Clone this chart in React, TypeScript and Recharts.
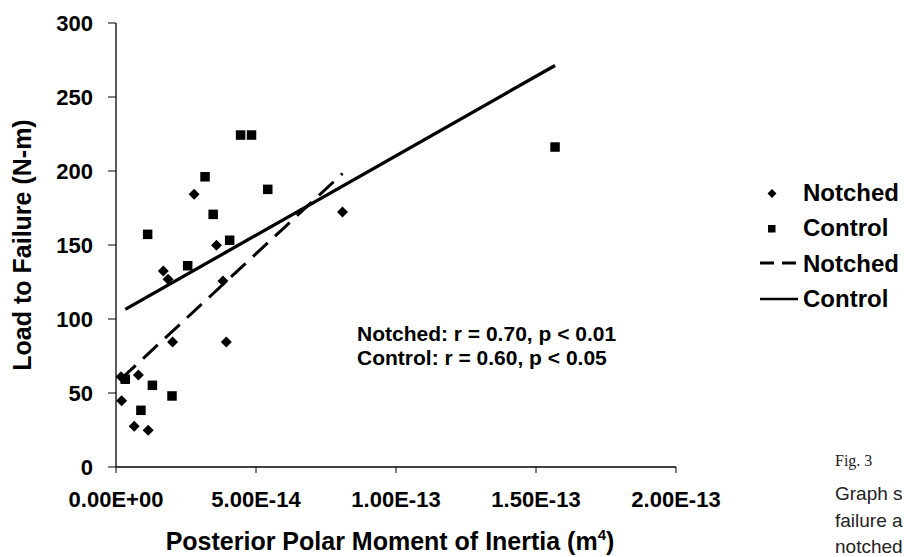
import React from 'react';
import { ScatterChart, Scatter, XAxis, YAxis, Label } from 'recharts';

// Posterior polar moment of inertia (m^4) and load to failure (N-m)
const notchedX = [0.20e-14, 0.18e-14, 0.65e-14, 0.80e-14, 1.15e-14, 1.69e-14, 1.86e-14, 2.02e-14, 2.79e-14, 3.59e-14, 3.82e-14, 3.94e-14, 8.09e-14];
const notchedY = [44.8, 61, 27.5, 62.2, 24.8, 132.4, 126.8, 84.5, 184.3, 149.8, 125.7, 84.5, 172.3];

const controlX = [0.33e-14, 0.89e-14, 1.13e-14, 1.30e-14, 2.0e-14, 2.56e-14, 3.18e-14, 3.47e-14, 4.06e-14, 4.45e-14, 4.84e-14, 5.42e-14, 15.68e-14];
const controlY = [59.3, 38.3, 157.2, 55.2, 48.0, 136.0, 196.1, 170.7, 153.2, 224.3, 224.3, 187.6, 216.2];

// regression lines (end points as drawn)
const notchedFitX = [0.18e-14, 8.09e-14];
const notchedFitY = [59.5, 198.3];
const controlFitX = [0.33e-14, 15.68e-14];
const controlFitY = [106.5, 271.3];

const xTicks = [0, 5e-14, 1e-13, 1.5e-13, 2e-13];
const yTicks = [0, 50, 100, 150, 200, 250, 300];

const legendItems = [
  { name: 'Notched', kind: 'diamond' },
  { name: 'Control', kind: 'square' },
  { name: 'Notched', kind: 'dashed' },
  { name: 'Control', kind: 'solid' },
];

const statLines = ['Notched: r = 0.70, p < 0.01', 'Control: r = 0.60, p < 0.05'];
const captionLines = ['Graph s', 'failure a', 'notched'];

const toPoints = (xs: number[], ys: number[]) => xs.map((x, i) => ({ x, y: ys[i] }));

const notched = toPoints(notchedX, notchedY);
const control = toPoints(controlX, controlY);
const notchedFit = toPoints(notchedFitX, notchedFitY);
const controlFit = toPoints(controlFitX, controlFitY);

const FONT = '"Liberation Sans", Arial, sans-serif';

const sci = (v: number) => {
  const [m, e] = v.toExponential(2).split('e');
  const sign = e[0] === '-' ? '-' : '+';
  const digits = e.replace(/[+-]/, '').padStart(2, '0');
  return `${m}E${sign}${digits}`;
};

const Diamond = (props: any) => {
  const { cx, cy } = props;
  const r = 5.5;
  return <path d={`M${cx},${cy - r}L${cx + r},${cy}L${cx},${cy + r}L${cx - r},${cy}Z`} fill="#000" />;
};

const Square = (props: any) => {
  const { cx, cy } = props;
  const s = 9.5;
  return <rect x={cx - s / 2} y={cy - s / 2} width={s} height={s} fill="#000" />;
};

const NoDot = () => <g />;

const LegendIcon = ({ kind }: { kind: string }) => (
  <svg width={40} height={36} style={{ display: 'block' }}>
    {kind === 'diamond' && <path d="M12,14L16.5,18.5L12,23L7.5,18.5Z" fill="#000" />}
    {kind === 'square' && <rect x={8} y={15} width={7.5} height={7.5} fill="#000" />}
    {kind === 'dashed' && <line x1={0} y1={18} x2={36} y2={18} stroke="#000" strokeWidth={3} strokeDasharray="14 8" />}
    {kind === 'solid' && <line x1={0} y1={18} x2={38} y2={18} stroke="#000" strokeWidth={2.5} />}
  </svg>
);

const YTitle = (props: any) => {
  const { viewBox } = props;
  const x = 31;
  const y = viewBox.y + viewBox.height / 2;
  return (
    <text x={x} y={y} transform={`rotate(-90, ${x}, ${y})`} textAnchor="middle"
      fontFamily={FONT} fontWeight="bold" fontSize={25} fill="#000">
      Load to Failure (N-m)
    </text>
  );
};

const XTitle = () => (
  <text x={390} y={550} textAnchor="middle" fontFamily={FONT} fontWeight="bold" fontSize={25} fill="#000">
    Posterior Polar Moment of Inertia (m
    <tspan fontSize={15} dy={-10}>4</tspan>
    <tspan dy={10}>)</tspan>
  </text>
);

export default function App() {
  return (
    <div style={{ position: 'fixed', left: 0, top: 0, width: 904, height: 557, overflow: 'hidden', background: '#fff' }}>
      <ScatterChart width={904} height={557} margin={{ top: 23, right: 228, bottom: 0, left: 0 }}>
        <XAxis
          type="number"
          dataKey="x"
          domain={[0, 2e-13]}
          ticks={xTicks}
          tickFormatter={sci}
          height={90}
          tickSize={6}
          tickMargin={18}
          stroke="#000"
          tick={{ fill: '#000', fontFamily: FONT, fontWeight: 'bold', fontSize: 22 }}
          axisLine={{ stroke: '#000', strokeWidth: 1.3 }}
          tickLine={{ stroke: '#000' }}
        >
          <Label content={<XTitle />} />
        </XAxis>
        <YAxis
          type="number"
          dataKey="y"
          domain={[0, 300]}
          ticks={yTicks}
          width={116}
          tickSize={8}
          tickMargin={15}
          stroke="#000"
          tick={{ fill: '#000', fontFamily: FONT, fontWeight: 'bold', fontSize: 22 }}
          axisLine={{ stroke: '#000', strokeWidth: 1.3 }}
          tickLine={{ stroke: '#000' }}
        >
          <Label content={<YTitle />} />
        </YAxis>
        <Scatter name="Notched" data={notched} shape={<Diamond />} isAnimationActive={false} />
        <Scatter name="Control" data={control} shape={<Square />} isAnimationActive={false} />
        <Scatter
          name="Notched fit"
          data={notchedFit}
          shape={<NoDot />}
          line={{ stroke: '#000', strokeWidth: 3, strokeDasharray: '20 10' }}
          lineType="joint"
          isAnimationActive={false}
        />
        <Scatter
          name="Control fit"
          data={controlFit}
          shape={<NoDot />}
          line={{ stroke: '#000', strokeWidth: 3.3 }}
          lineType="joint"
          isAnimationActive={false}
        />
      </ScatterChart>

      <div style={{ position: 'absolute', left: 760, top: 175, fontFamily: FONT, fontWeight: 'bold', fontSize: 24, color: '#000' }}>
        {legendItems.map((it, i) => (
          <div key={i} style={{ display: 'flex', alignItems: 'center', height: 35.3, lineHeight: '35.3px' }}>
            <LegendIcon kind={it.kind} />
            <span style={{ marginLeft: 3, whiteSpace: 'nowrap' }}>{it.name}</span>
          </div>
        ))}
      </div>

      <div style={{ position: 'absolute', left: 357, top: 322, fontFamily: FONT, fontWeight: 'bold', fontSize: 21, lineHeight: '23.5px', color: '#000', whiteSpace: 'nowrap' }}>
        {statLines.map((s, i) => <div key={i}>{s}</div>)}
      </div>

      <div style={{ position: 'absolute', left: 835, top: 453, fontFamily: '"Liberation Serif", serif', fontSize: 16, lineHeight: 1, color: '#222', whiteSpace: 'nowrap' }}>
        Fig. 3
      </div>
      <div style={{ position: 'absolute', left: 835, top: 481, fontFamily: FONT, fontSize: 19, lineHeight: '26.5px', color: '#222', whiteSpace: 'nowrap' }}>
        {captionLines.map((s, i) => <div key={i}>{s}</div>)}
      </div>
    </div>
  );
}
